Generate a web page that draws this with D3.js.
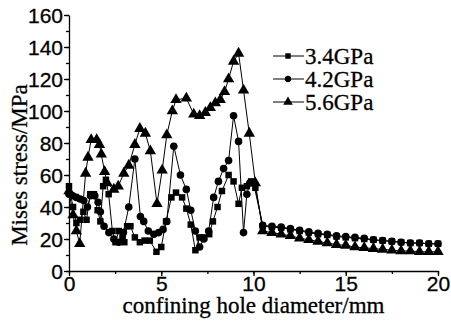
<!DOCTYPE html>
<html>
<head>
<meta charset="utf-8">
<script src="https://cdn.jsdelivr.net/npm/d3@7"></script>
<style>
  body { margin: 0; background: #fff; }
  svg { display: block; font-family: "Liberation Serif", "DejaVu Serif", serif; }
  svg text { fill: #000; stroke: #000; stroke-width: 0.3; }
  .series-line { fill: none; stroke: #000; stroke-width: 1; }
  .axis path, .axis line { stroke: #000; stroke-width: 1.3; }
  .axis text { font-size: 21px; }
</style>
</head>
<body>
<script>
// tick labels
const xTicks = [0, 5, 10, 15, 20];
const yTicks = [0, 20, 40, 60, 80, 100, 120, 140, 160];

// tail part, same x for all series (0.5 mm step)
const tailX = [10.5, 11, 11.5, 12, 12.5, 13, 13.5, 14, 14.5, 15, 15.5, 16, 16.5, 17, 17.5, 18, 18.5, 19, 19.5, 20];

// 3.4GPa (squares)
const s34x = [0, 0.22, 0.4, 0.6, 0.78, 0.95, 1.15, 1.35, 1.55, 1.7, 1.85, 2.0, 2.15, 2.35, 2.52, 2.7, 2.9, 3.0, 3.15, 3.33, 3.57, 3.84, 4.1, 4.38, 4.74, 5.0, 5.26, 5.55, 5.8, 6.13, 6.36, 6.6, 6.85, 7.08, 7.33, 7.6, 7.8, 8.05, 8.29, 8.65, 8.92, 9.19, 9.37, 9.64, 9.87, 10.1];
const s34y = [53, 40, 30, 32, 37, 32, 48, 48, 38, 31, 53, 57, 48, 25, 18, 25, 21, 18, 28, 28, 21, 18, 19, 19, 12, 15, 31, 46, 49, 46, 39, 29, 13, 21, 21, 23, 31, 40, 50, 60, 56, 42, 52, 53, 56, 52];
const s34tail = [28, 27.5, 27, 26, 25, 24, 23, 22.5, 21.5, 21, 20.5, 20, 19.5, 19, 18.5, 18, 17.5, 17.5, 17, 17];

// 4.2GPa (circles)
const s42x = [0, 0.2, 0.4, 0.6, 0.8, 1.0, 1.17, 1.4, 1.58, 1.7, 1.9, 2.16, 2.43, 2.7, 2.95, 3.24, 3.57, 3.87, 4.05, 4.3, 4.6, 4.86, 5.1, 5.3, 5.68, 6.04, 6.36, 6.6, 6.85, 7.08, 7.3, 7.57, 7.84, 8.1, 8.38, 8.65, 8.92, 9.19, 9.46, 9.64, 9.8, 10.0];
const s42y = [48, 47, 46, 45, 44, 40, 47, 47, 43, 37, 28, 24, 20, 18, 24, 40, 70, 34, 31, 25, 23, 24, 26, 31, 78, 60, 51, 38, 25, 15, 20, 25, 46, 56, 64, 69, 97, 81, 24, 48, 55, 55];
const s42tail = [28.5, 28, 27.5, 26.5, 25.5, 24.5, 23.5, 23, 22, 21.5, 21, 20.5, 19.5, 19, 18.5, 18, 17.5, 17.5, 17, 17];

// 5.6GPa (triangles)
const s56x = [0, 0.22, 0.4, 0.58, 0.9, 1.03, 1.2, 1.5, 1.65, 1.75, 1.93, 2.07, 2.43, 2.67, 2.97, 3.24, 3.57, 3.84, 4.14, 4.41, 4.77, 5.05, 5.3, 5.6, 5.8, 6.36, 6.76, 7.08, 7.39, 7.66, 7.93, 8.2, 8.43, 8.65, 8.92, 9.19, 9.46, 9.77, 10.1];
const s56y = [50, 35, 25, 17, 61, 71, 82, 82, 79, 73, 62, 55, 51, 53, 61, 66, 79, 89, 86, 75, 42, 63, 85, 100, 107, 108, 98, 97, 99, 102, 105, 107, 112, 120, 131, 136, 113, 86, 55];
const s56tail = [25, 24, 23, 22, 20.5, 19.5, 18.5, 17.5, 16.5, 16, 15, 14.5, 14, 13.5, 13, 12.5, 12.5, 12, 12, 12];

const seriesNames = ["3.4GPa", "4.2GPa", "5.6GPa"];
const seriesShapes = [d3.symbolSquare, d3.symbolCircle, d3.symbolTriangle];
const seriesSizes = [42, 45, 56];

function pts(xs, ys, tail) {
  return xs.map((x, i) => [x, ys[i]]).concat(tailX.map((x, i) => [x, tail[i]]));
}
const series = [
  pts(s34x, s34y, s34tail),
  pts(s42x, s42y, s42tail),
  pts(s56x, s56y, s56tail),
];

const width = 451, height = 323;
const margin = { left: 69, right: 13, top: 15, bottom: 52 };

const svg = d3.select("body").append("svg")
  .attr("width", width)
  .attr("height", height);

const x = d3.scaleLinear().domain([0, 20]).range([margin.left, width - margin.right]);
const y = d3.scaleLinear().domain([0, 160]).range([height - margin.bottom, margin.top]);

// minor ticks
svg.append("g")
  .attr("class", "axis")
  .attr("transform", `translate(0,${y(0)})`)
  .call(d3.axisBottom(x).tickValues(d3.range(0, 20.01, 2.5)).tickSize(3).tickFormat(""))
  .call(g => g.select(".domain").remove());
svg.append("g")
  .attr("class", "axis")
  .attr("transform", `translate(${x(0)},0)`)
  .call(d3.axisLeft(y).tickValues(d3.range(0, 160.01, 10)).tickSize(3).tickFormat(""))
  .call(g => g.select(".domain").remove());

// major axes
svg.append("g")
  .attr("class", "axis")
  .attr("transform", `translate(0,${y(0)})`)
  .call(d3.axisBottom(x).tickValues(xTicks).tickSize(5).tickSizeOuter(0).tickPadding(0).tickFormat(d3.format("d")));
svg.append("g")
  .attr("class", "axis")
  .attr("transform", `translate(${x(0)},0)`)
  .call(d3.axisLeft(y).tickValues(yTicks).tickSize(5).tickSizeOuter(0).tickPadding(1).tickFormat(d3.format("d")))
  .call(g => g.selectAll("text").attr("dy", "0.35em"));

// axis titles
svg.append("text")
  .attr("x", (x(0) + x(20)) / 2)
  .attr("y", 313)
  .attr("text-anchor", "middle")
  .style("font-size", "23px")
  .text("confining hole diameter/mm");

svg.append("text")
  .attr("transform", `translate(27,${(y(0) + y(160)) / 2 + 22}) rotate(-90)`)
  .attr("text-anchor", "middle")
  .style("font-size", "23px")
  .text("Mises stress/MPa");

// series
const line = d3.line().x(d => x(d[0])).y(d => y(d[1]));

series.forEach((data, i) => {
  const g = svg.append("g");
  g.append("path").attr("class", "series-line").attr("d", line(data));
  g.selectAll("path.marker")
    .data(data)
    .join("path")
    .attr("class", "marker")
    .attr("transform", d => `translate(${x(d[0])},${y(d[1])})`)
    .attr("d", d3.symbol(seriesShapes[i], seriesSizes[i]))
    .attr("fill", "#000");
});

// legend
const legend = svg.append("g").attr("transform", "translate(273,56)");
seriesNames.forEach((name, i) => {
  const row = legend.append("g").attr("transform", `translate(0,${i * 23})`);
  row.append("line")
    .attr("x1", 0).attr("x2", 31)
    .attr("stroke", "#000").attr("stroke-width", 1);
  row.append("path")
    .attr("transform", "translate(15,0)")
    .attr("d", d3.symbol(seriesShapes[i], seriesSizes[i] * 0.7))
    .attr("fill", "#000");
  row.append("text")
    .attr("x", 32)
    .attr("dy", "0.35em")
    .style("font-size", "23px")
    .text(name);
});
</script>
</body>
</html>
